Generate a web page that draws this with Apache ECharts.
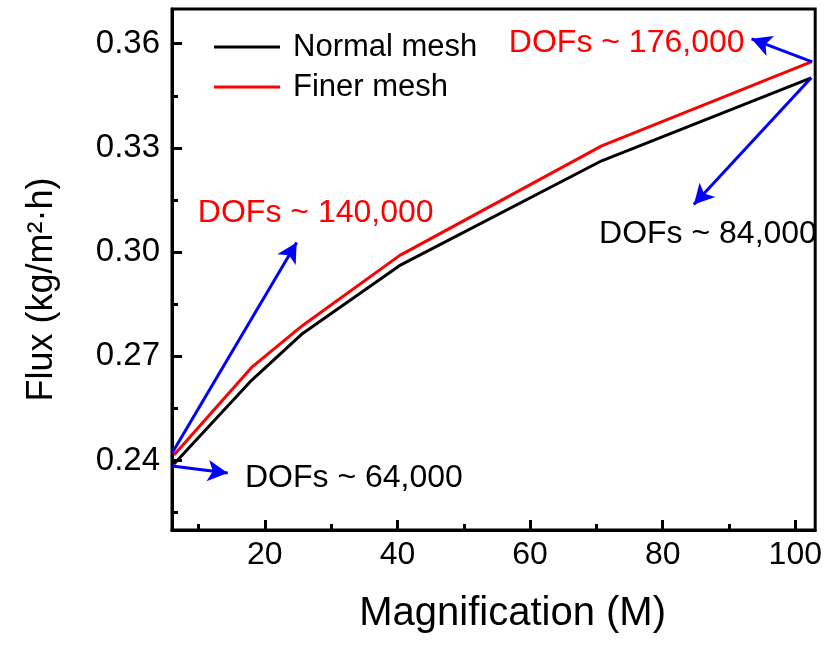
<!DOCTYPE html>
<html>
<head>
<meta charset="utf-8">
<script src="https://cdn.jsdelivr.net/npm/echarts@6/dist/echarts.min.js"></script>
<style>html,body{margin:0;padding:0;background:#fff;}#c{width:825px;height:645px;}</style>
</head>
<body>
<div id="c"></div>
<script>
// ---- data ----
const magnification = [6.3, 18, 25.7, 40.3, 70.8, 102.4];
const fluxNormal = [0.2390, 0.2631, 0.2766, 0.2961, 0.3263, 0.3502];
const fluxFiner  = [0.2416, 0.2668, 0.2789, 0.2990, 0.3306, 0.3548];
const seriesNames = ['Normal mesh', 'Finer mesh'];
const xTicks = [20, 40, 60, 80, 100];
const xMinorTicks = [10, 30, 50, 70, 90];
const yTicks = [0.24, 0.27, 0.30, 0.33, 0.36];
const yMinorTicks = [0.225, 0.255, 0.285, 0.315, 0.345];
// annotation texts
const noteX = [56.8, 9.9, 70.4, 17.0];
const noteY = [0.3602, 0.3111, 0.3053, 0.2349];
const noteText = ['DOFs ~ 176,000', 'DOFs ~ 140,000', 'DOFs ~ 84,000', 'DOFs ~ 64,000'];
const noteColor = ['#ff0000', '#ff0000', '#000000', '#000000'];
// arrows: from [x,y] to [x,y]
const arrowFrom = [[102.55, 0.3548], [102.4, 0.3502], [6.0, 0.2421], [6.0, 0.2384]];
const arrowTo   = [[93.4, 0.3614], [84.7, 0.3137], [24.8, 0.3028], [14.4, 0.2364]];

const FONT = 'Liberation Sans, Arial, Helvetica, sans-serif';
const chart = echarts.init(document.getElementById('c'), null, {renderer: 'canvas'});

const xMin = 6, xMax = 103, yMin = 0.22, yMax = 0.37;

const option = {
  animation: false,
  backgroundColor: '#fff',
  grid: {left: 172, right: 8, top: 9, bottom: 115, show: true, borderColor: '#000', borderWidth: 3, containLabel: false},
  legend: {
    data: seriesNames, orient: 'vertical', left: 209, top: 22, itemGap: 0,
    itemWidth: 66, itemHeight: 3,
    icon: 'path://M0,0 L66,0 L66,3 L0,3 Z',
    textStyle: {fontFamily: FONT, fontSize: 31, color: '#000', lineHeight: 40, padding: [0, 0, 0, 8]}
  },
  xAxis: [{
    type: 'value', min: xMin, max: xMax, position: 'bottom',
    name: 'Magnification (M)', nameLocation: 'middle', nameGap: 64,
    nameTextStyle: {fontFamily: FONT, fontSize: 40, color: '#000', padding: [0, 0, 0, 38]},
    axisLine: {show: true, lineStyle: {color: '#000', width: 3}},
    axisTick: {show: true, inside: true, length: 10, customValues: xTicks, lineStyle: {color: '#000', width: 3}},
    axisLabel: {show: true, customValues: xTicks, margin: 9, fontFamily: FONT, fontSize: 32, color: '#000'},
    splitLine: {show: false}
  }, {
    type: 'value', min: xMin, max: xMax, position: 'bottom',
    axisLine: {show: false},
    axisTick: {show: true, inside: true, length: 6, customValues: xMinorTicks, lineStyle: {color: '#000', width: 3}},
    axisLabel: {show: false}, splitLine: {show: false}
  }],
  yAxis: [{
    type: 'value', min: yMin, max: yMax, position: 'left',
    name: 'Flux (kg/m²·h)', nameLocation: 'middle', nameGap: 112, nameRotate: 90,
    nameTextStyle: {fontFamily: FONT, fontSize: 36, color: '#000', padding: [0, 40, 0, 0]},
    axisLine: {show: true, lineStyle: {color: '#000', width: 3}},
    axisTick: {show: true, inside: true, length: 10, customValues: yTicks, lineStyle: {color: '#000', width: 3}},
    axisLabel: {show: true, customValues: yTicks, margin: 12, fontFamily: FONT, fontSize: 33, color: '#000',
      formatter: v => v.toFixed(2)},
    splitLine: {show: false}
  }, {
    type: 'value', min: yMin, max: yMax, position: 'left',
    axisLine: {show: false},
    axisTick: {show: true, inside: true, length: 6, customValues: yMinorTicks, lineStyle: {color: '#000', width: 3}},
    axisLabel: {show: false}, splitLine: {show: false}
  }],
  series: [{
    name: seriesNames[0], type: 'line', symbol: 'none', clip: false,
    lineStyle: {color: '#000', width: 3}, itemStyle: {color: '#000'},
    data: magnification.map((x, i) => [x, fluxNormal[i]]), z: 3
  }, {
    name: seriesNames[1], type: 'line', symbol: 'none', clip: false,
    lineStyle: {color: '#ff0000', width: 3}, itemStyle: {color: '#ff0000'},
    data: magnification.map((x, i) => [x, fluxFiner[i]]), z: 4
  }, {
    name: 'notes', type: 'scatter', symbolSize: 0, clip: false, z: 5,
    itemStyle: {color: '#000', opacity: 1},
    label: {show: true, color: '#000', opacity: 1, textBorderWidth: 0},
    data: noteX.map((x, i) => ({
      value: [x, noteY[i]],
      label: {show: true, position: 'right', distance: 0, formatter: noteText[i], color: noteColor[i],
        opacity: 1, textBorderWidth: 0, fontFamily: FONT, fontSize: 32}
    })),
    markLine: {
      silent: true, symbol: ['none', 'arrow'], symbolSize: [16, 20], precision: 6,
      lineStyle: {color: '#0000ff', width: 3, type: 'solid', opacity: 1},
      itemStyle: {color: '#0000ff'},
      label: {show: false},
      emphasis: {disabled: true},
      data: arrowFrom.map((f, i) => [{coord: f}, {coord: arrowTo[i]}])
    }
  }]
};
chart.setOption(option);
</script>
</body>
</html>
